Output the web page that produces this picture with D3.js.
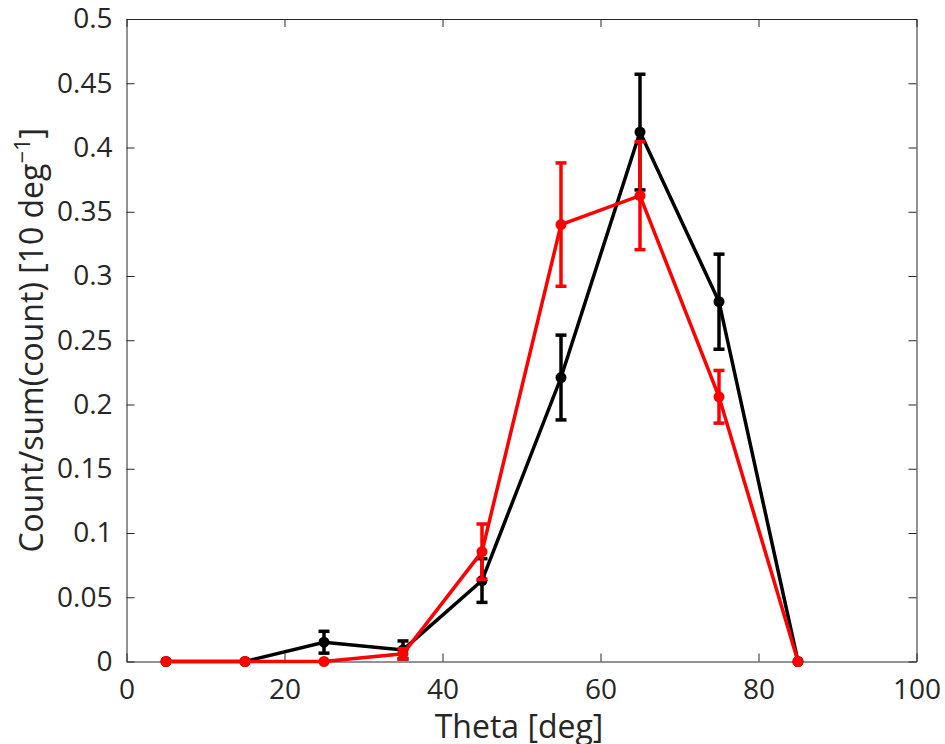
<!DOCTYPE html>
<html>
<head>
<meta charset="utf-8">
<script src="https://cdn.jsdelivr.net/npm/d3@7"></script>
<style>
  body { margin: 0; background: #fff; overflow: hidden; }
  text { font-family: "Open Sans", "DejaVu Sans", sans-serif; fill: #262626; }
</style>
</head>
<body>
<script>
const theta = [5, 15, 25, 35, 45, 55, 65, 75, 85]

const blackVals = [0, 0, 0.015, 0.009, 0.063, 0.221, 0.412, 0.280, 0]
const blackErr  = [0, 0, 0.0085, 0.007, 0.017, 0.033, 0.045, 0.037, 0]

const redVals = [0, 0, 0, 0.006, 0.0855, 0.340, 0.3625, 0.206, 0]
const redErr  = [0, 0, 0, 0.004, 0.0215, 0.048, 0.042, 0.0205, 0]

const xTicks = [0, 20, 40, 60, 80, 100]
const yTicks = [0, 0.05, 0.1, 0.15, 0.2, 0.25, 0.3, 0.35, 0.4, 0.45, 0.5]

const w = 945
const h = 744
const padL = 126.5, padR = 916.5, padT = 19, padB = 661.5

const svg = d3.select('body')
     .append('svg')
     .attr('width', w)
     .attr('height', h)

const xScale = d3.scaleLinear().domain([0, 100]).range([padL, padR])
const yScale = d3.scaleLinear().domain([0, 0.5]).range([padB, padT])

const tickLen = 8
const axisColor = '#262626'

// axes: bottom & left with inward ticks, top & right mirrored
const xAxis = d3.axisBottom(xScale).tickValues(xTicks).tickSizeInner(-tickLen).tickSizeOuter(0).tickPadding(18)
const yAxis = d3.axisLeft(yScale).tickValues(yTicks).tickSizeInner(-tickLen).tickSizeOuter(0).tickPadding(14)
     .tickFormat(d => d === 0 ? '0' : String(+d.toFixed(2)))
const xTop = d3.axisTop(xScale).tickValues(xTicks).tickSizeInner(-tickLen).tickSizeOuter(0).tickFormat('')
const yRight = d3.axisRight(yScale).tickValues(yTicks).tickSizeInner(-tickLen).tickSizeOuter(0).tickFormat('')

function styleAxis(g) {
     g.selectAll('path').attr('stroke', axisColor).attr('stroke-width', 1)
     g.selectAll('line').attr('stroke', axisColor).attr('stroke-width', 1)
     g.selectAll('text').attr('font-size', 28).attr('fill', axisColor)
          .style('font-family', '"Open Sans", "DejaVu Sans", sans-serif')
}

svg.append('g').attr('transform', 'translate(0,' + padB + ')').call(xAxis).call(styleAxis)
svg.append('g').attr('transform', 'translate(' + padL + ',0)').call(yAxis).call(styleAxis)
svg.append('g').attr('transform', 'translate(0,' + padT + ')').call(xTop).call(styleAxis)
svg.append('g').attr('transform', 'translate(' + padR + ',0)').call(yRight).call(styleAxis)

// axis labels
svg.append('text')
     .attr('x', 519)
     .attr('y', 738)
     .attr('text-anchor', 'middle')
     .attr('font-size', 32)
     .text('Theta [deg]')

const yl = svg.append('text')
     .attr('transform', 'translate(43,' + ((padT + padB) / 2) + ') rotate(-90)')
     .attr('text-anchor', 'middle')
     .attr('font-size', 32)
yl.append('tspan').text('Count/sum(count) [10 deg')
yl.append('tspan').attr('font-size', 22).attr('dy', -13).text('\u22121')
yl.append('tspan').attr('dy', 13).text(']')

const line = d3.line().x(d => xScale(d.x)).y(d => yScale(d.y))

function drawSeries(vals, errs, color) {
     const data = theta.map((t, i) => ({ x: t, y: vals[i], e: errs[i] }))
     const g = svg.append('g')
     g.append('path')
          .datum(data)
          .attr('fill', 'none')
          .attr('stroke', color)
          .attr('stroke-width', 3.5)
          .attr('d', line)

     const eb = g.selectAll('.err')
          .data(data.filter(d => d.e > 0))
          .enter()
          .append('g')
          .attr('stroke', color)
          .attr('stroke-width', 3.5)
     eb.append('line')
          .attr('x1', d => xScale(d.x)).attr('x2', d => xScale(d.x))
          .attr('y1', d => yScale(d.y - d.e)).attr('y2', d => yScale(d.y + d.e))
     eb.append('line')
          .attr('x1', d => xScale(d.x) - 5.5).attr('x2', d => xScale(d.x) + 5.5)
          .attr('y1', d => yScale(d.y + d.e)).attr('y2', d => yScale(d.y + d.e))
     eb.append('line')
          .attr('x1', d => xScale(d.x) - 5.5).attr('x2', d => xScale(d.x) + 5.5)
          .attr('y1', d => yScale(d.y - d.e)).attr('y2', d => yScale(d.y - d.e))

     g.selectAll('circle')
          .data(data)
          .enter()
          .append('circle')
          .attr('cx', d => xScale(d.x))
          .attr('cy', d => yScale(d.y))
          .attr('r', 5.5)
          .attr('fill', color)
}

drawSeries(blackVals, blackErr, '#000')
drawSeries(redVals, redErr, '#f00')
</script>
</body>
</html>
